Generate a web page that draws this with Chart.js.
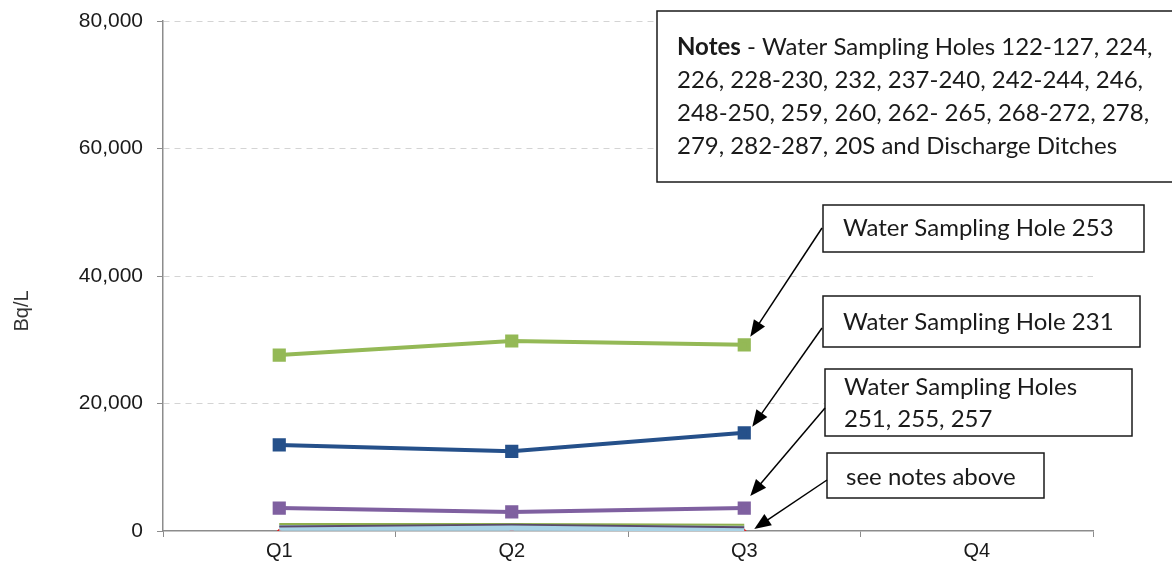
<!DOCTYPE html>
<html>
<head>
<meta charset="utf-8">
<script src="https://cdn.jsdelivr.net/npm/chart.js@4.4.1/dist/chart.umd.min.js"></script>
<style>
    html, body { margin: 0; padding: 0; background: #fff; }
    #wrap { width: 1172px; height: 572px; }
</style>
</head>
<body>
<div id="wrap"><canvas id="chart" width="1172" height="572"></canvas></div>
<script>
// Chart data
const quarters = ['Q1', 'Q2', 'Q3', 'Q4'];
const hole253 = [27600, 29800, 29200, null];
const hole231 = [13500, 12500, 15400, null];
const holes251 = [3600, 3000, 3600, null];
const otherDark = [700, 1000, 600, null];
const otherOlive = [1100, 1100, 1000, null];
const otherLightBlue = [500, 500, 450, null];
const otherRed = [0, 0, 0, null];
const yTicks = [0, 20000, 40000, 60000, 80000];

const noteLines = [
    ' - Water Sampling Holes 122-127, 224,',
    '226, 228-230, 232, 237-240, 242-244, 246,',
    '248-250, 259, 260, 262- 265, 268-272, 278,',
    '279, 282-287, 20S and Discharge Ditches'
];

const boxFont = '24px Lato, "Open Sans", sans-serif';
const axisFont = '"Liberation Sans", Arial, sans-serif';

// Draw an arrow with a filled head
function drawArrow(ctx, x1, y1, x2, y2) {
    const ang = Math.atan2(y2 - y1, x2 - x1);
    const head = 18;
    ctx.strokeStyle = '#000';
    ctx.fillStyle = '#000';
    ctx.lineWidth = 1.5;
    ctx.beginPath();
    ctx.moveTo(x1, y1);
    ctx.lineTo(x2 - Math.cos(ang) * head * 0.8, y2 - Math.sin(ang) * head * 0.8);
    ctx.stroke();
    ctx.beginPath();
    ctx.moveTo(x2, y2);
    ctx.lineTo(x2 - head * Math.cos(ang - 0.38), y2 - head * Math.sin(ang - 0.38));
    ctx.lineTo(x2 - head * Math.cos(ang + 0.38), y2 - head * Math.sin(ang + 0.38));
    ctx.closePath();
    ctx.fill();
}

function drawBox(ctx, x, y, w, h) {
    ctx.fillStyle = '#fff';
    ctx.fillRect(x, y, w, h);
    ctx.strokeStyle = '#1a1a1a';
    ctx.lineWidth = 1.5;
    ctx.strokeRect(x, y, w, h);
}

// Callout boxes, arrows and the y title
const calloutPlugin = {
    id: 'callouts',
    afterDraw(chart) {
        const ctx = chart.ctx;
        ctx.save();

        // y axis title
        ctx.save();
        ctx.translate(22, 311);
        ctx.rotate(-Math.PI / 2);
        ctx.font = '20px ' + axisFont;
        ctx.fillStyle = '#333';
        ctx.textAlign = 'center';
        ctx.textBaseline = 'middle';
        ctx.fillText('Bq/L', 0, 0);
        ctx.restore();

        // notes box
        drawBox(ctx, 657, 11, 520, 171);
        ctx.fillStyle = '#1a1a1a';
        ctx.textBaseline = 'middle';
        ctx.font = 'bold ' + boxFont;
        ctx.fillText('Notes', 677, 47);
        const bw = ctx.measureText('Notes').width;
        ctx.font = boxFont;
        ctx.fillText(noteLines[0], 677 + bw, 47);
        for (let i = 1; i < noteLines.length; i++) {
            ctx.fillText(noteLines[i], 677, 47 + i * 33);
        }

        const pt = (ds) => chart.getDatasetMeta(ds).data[2];

        // Water Sampling Hole 253
        drawBox(ctx, 823, 205, 321, 47);
        ctx.fillStyle = '#1a1a1a';
        ctx.fillText('Water Sampling Hole 253', 843, 228);
        drawArrow(ctx, 822, 228, pt(0).x + 6, pt(0).y - 8);

        // Water Sampling Hole 231
        drawBox(ctx, 823, 296, 317, 51);
        ctx.fillStyle = '#1a1a1a';
        ctx.fillText('Water Sampling Hole 231', 843, 322);
        drawArrow(ctx, 822, 328, pt(1).x + 8, pt(1).y - 6);

        // Water Sampling Holes 251, 255, 257
        drawBox(ctx, 825, 369, 307, 67);
        ctx.fillStyle = '#1a1a1a';
        ctx.fillText('Water Sampling Holes', 844, 387);
        ctx.fillText('251, 255, 257', 844, 419);
        drawArrow(ctx, 825, 408, pt(2).x + 6, pt(2).y - 12);

        // see notes above
        drawBox(ctx, 827, 453, 217, 45);
        ctx.fillStyle = '#1a1a1a';
        ctx.fillText('see notes above', 846, 477);
        drawArrow(ctx, 827, 480, pt(6).x + 10, pt(6).y - 2);

        ctx.restore();
    }
};

const bgPlugin = {
    id: 'bg',
    beforeDraw(chart) {
        const ctx = chart.ctx;
        ctx.save();
        ctx.fillStyle = '#fff';
        ctx.fillRect(0, 0, chart.width, chart.height);
        ctx.restore();
    }
};

function lineSet(data, color, width, radius, style) {
    return {
        data: data,
        borderColor: color,
        backgroundColor: color,
        borderWidth: width,
        pointRadius: radius,
        pointStyle: style,
        pointBorderColor: color,
        pointBackgroundColor: color,
        tension: 0,
        spanGaps: false
    };
}

new Chart(document.getElementById('chart'), {
    type: 'line',
    data: {
        labels: quarters,
        datasets: [
            lineSet(hole253, '#94b956', 4, 6.5, 'rect'),
            lineSet(hole231, '#25508a', 4, 6.5, 'rect'),
            lineSet(holes251, '#7f60a0', 4, 6.5, 'rect'),
            lineSet(otherDark, '#5a4a6a', 2, 0, 'circle'),
            lineSet(otherOlive, '#8fb04e', 2, 0, 'circle'),
            lineSet(otherLightBlue, '#a9d3e6', 6, 0, 'circle'),
            Object.assign(lineSet(otherRed, '#e02020', 0, 2.5, 'rectRot'), { showLine: false })
        ]
    },
    options: {
        responsive: false,
        animation: false,
        layout: { padding: { top: 21, right: 79, left: 0, bottom: 0 } },
        plugins: {
            legend: { display: false },
            tooltip: { enabled: false }
        },
        scales: {
            x: {
                offset: true,
                grid: {
                    display: true,
                    drawOnChartArea: false,
                    drawTicks: true,
                    tickLength: 6,
                    offset: true,
                    color: '#8c8c8c'
                },
                border: { color: '#8c8c8c', width: 1.5 },
                ticks: {
                    color: '#1a1a1a',
                    font: { family: axisFont, size: 20 },
                    padding: 2
                },
                afterFit(scale) { scale.height = 41; }
            },
            y: {
                min: 0,
                max: 80000,
                afterBuildTicks(scale) {
                    scale.ticks = yTicks.map(v => ({ value: v }));
                },
                grid: {
                    color: (c) => c.tick && c.tick.value === 0 ? 'rgba(0,0,0,0)' : '#d4d4d4',
                    tickColor: '#8c8c8c',
                    tickLength: 6,
                    lineWidth: 1
                },
                border: { color: '#8c8c8c', width: 1.5, dash: [6, 5], dashOffset: 0 },
                ticks: {
                    color: '#1a1a1a',
                    font: { family: axisFont, size: 21 },
                    padding: 14,
                    callback: (v) => v.toLocaleString('en-US')
                },
                afterFit(scale) {
                    scale.width = 163;
                    scale.paddingTop = 0;
                    scale.paddingBottom = 0;
                }
            }
        }
    },
    plugins: [bgPlugin, calloutPlugin]
});
</script>
</body>
</html>
